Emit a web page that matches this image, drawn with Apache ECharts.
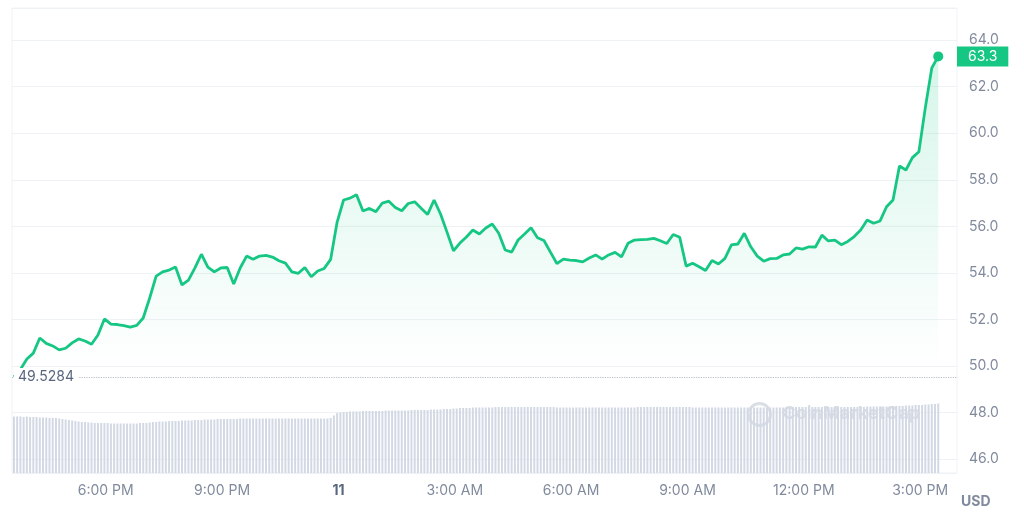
<!DOCTYPE html>
<html lang="en" style="height: 100%">

<head>
  <meta charset="utf-8">
  <style>
    html,
    body {
      margin: 0;
      padding: 0;
      width: 100%;
      height: 100%;
      overflow: hidden;
      background: #fff;
    }
  </style>
</head>

<body>
  <div id="container" style="height: 100%;width: 100%;"></div>

  <script type="text/javascript" src="https://cdn.jsdelivr.net/npm/echarts@6/dist/echarts.min.js"></script>
  <script type="text/javascript">

    var dom = document.getElementById('container');
    var myChart = echarts.init(dom, null, { renderer: 'canvas' });

    let green = '#16c784';
    let labelGrey = '#808a9d';

    // minutes counted from 3:00 PM on the 10th
    let priceStart = 38;
    let priceStep = 10;
    let volStart = 38;
    let volStep = 5;

    let xTickLabels = ['6:00 PM', '9:00 PM', '11', '3:00 AM', '6:00 AM', '9:00 AM', '12:00 PM', '3:00 PM'];
    let openPrice = 49.5284;

    let priceValues = [
      49.53, 49.85, 50.30, 50.55, 51.20, 50.97, 50.86, 50.69, 50.76, 50.99, 51.16, 51.07,
      50.93, 51.33, 52.02, 51.80, 51.78, 51.73, 51.67, 51.74, 52.06, 52.92, 53.86, 54.04,
      54.12, 54.25, 53.48, 53.69, 54.21, 54.80, 54.25, 54.04, 54.21, 54.23, 53.52, 54.21,
      54.72, 54.58, 54.72, 54.75, 54.68, 54.52, 54.42, 54.04, 53.98, 54.23, 53.83, 54.08,
      54.19, 54.58, 56.18, 57.13, 57.21, 57.36, 56.66, 56.77, 56.63, 57.00, 57.08, 56.81,
      56.67, 56.98, 57.05, 56.78, 56.51, 57.13, 56.53, 55.75, 54.95, 55.28, 55.54, 55.84,
      55.67, 55.93, 56.10, 55.70, 54.98, 54.89, 55.41, 55.67, 55.94, 55.51, 55.39, 54.89,
      54.40, 54.59, 54.55, 54.53, 54.47, 54.64, 54.77, 54.59, 54.77, 54.88, 54.69, 55.27,
      55.41, 55.43, 55.44, 55.48, 55.38, 55.26, 55.65, 55.53, 54.29, 54.41, 54.26, 54.10,
      54.53, 54.38, 54.62, 55.20, 55.24, 55.70, 55.12, 54.72, 54.50, 54.61, 54.62, 54.77,
      54.81, 55.07, 55.02, 55.12, 55.11, 55.62, 55.37, 55.41, 55.21, 55.35, 55.56, 55.84,
      56.27, 56.13, 56.23, 56.84, 57.13, 58.59, 58.42, 58.95, 59.20, 61.10, 62.80, 63.30
    ];

    // volume, millions
    let volumeValues = [
      11.3, 11.3, 11.3, 11.2, 11.3, 11.2, 11.2, 11.2, 11.1, 11.1, 11.1, 11.0, 11.0, 11.0, 10.9,
      10.8, 10.7, 10.6, 10.5, 10.4, 10.3, 10.2, 10.2, 10.1,
      10.1, 10.0, 10.0, 10.0, 10.0, 10.0, 9.9, 9.9, 9.9, 9.9, 9.9, 9.9, 9.9, 9.9, 9.9, 10.0, 10.0, 10.0, 10.1,
      10.2, 10.2, 10.3, 10.3, 10.3, 10.4, 10.4, 10.4, 10.4, 10.5, 10.5, 10.5, 10.5, 10.6, 10.6, 10.6,
      10.7, 10.7, 10.7, 10.7, 10.8, 10.8, 10.8, 10.8, 10.8, 10.8,
      10.8, 10.9, 10.9, 10.9, 10.9, 10.9, 10.9, 10.9, 10.9, 10.9,
      10.9, 10.9, 10.9, 10.9, 10.9, 10.9, 10.9, 10.9, 10.9, 10.9,
      10.9, 10.9, 10.9, 10.9, 10.9, 10.9, 10.9, 10.9, 10.9, 11.0,
      11.5, 12.0, 12.1, 12.2, 12.2,
      12.3, 12.3, 12.3, 12.3, 12.4, 12.4, 12.4, 12.4, 12.4, 12.4,
      12.4, 12.5, 12.5, 12.5, 12.5, 12.5, 12.5, 12.5, 12.5, 12.6,
      12.6, 12.6, 12.6, 12.6, 12.6, 12.7, 12.7, 12.7, 12.7, 12.8,
      12.8, 12.8,
      12.9, 12.9, 13.0, 13.0, 13.0, 13.0, 13.1, 13.1, 13.1, 13.1,
      13.1, 13.1, 13.1, 13.2, 13.2, 13.2, 13.2, 13.2, 13.2, 13.2,
      13.2, 13.2, 13.2, 13.2, 13.2, 13.2, 13.2, 13.2, 13.2, 13.2,
      13.2, 13.2, 13.1, 13.1, 13.1, 13.1, 13.1, 13.1, 13.1, 13.1,
      13.1, 13.1, 13.1, 13.1, 13.1, 13.1, 13.1, 13.1, 13.1, 13.1,
      13.1, 13.1, 13.1, 13.1, 13.1, 13.1, 13.1, 13.2, 13.2, 13.2,
      13.2, 13.2, 13.2, 13.2, 13.2, 13.2, 13.2, 13.2, 13.2, 13.2,
      13.2, 13.2, 13.2, 13.2, 13.1, 13.1, 13.1, 13.1, 13.1, 13.1,
      13.1, 13.1, 13.1, 13.1, 13.1, 13.1, 13.1, 13.1, 13.1, 13.1,
      13.1, 13.1, 13.1, 13.1, 13.1, 13.1, 13.1, 13.1, 13.1, 13.1,
      13.1, 13.1, 13.1, 13.1, 13.2, 13.2, 13.2, 13.2, 13.2, 13.2,
      13.2, 13.2, 13.2, 13.2, 13.2, 13.2, 13.2, 13.2, 13.2, 13.2,
      13.2, 13.2, 13.2, 13.2, 13.2, 13.2, 13.2, 13.2, 13.3, 13.3,
      13.3, 13.3, 13.3, 13.3, 13.3, 13.3, 13.4, 13.4, 13.4, 13.4,
      13.5, 13.5, 13.5, 13.6, 13.6, 13.6, 13.7, 13.7, 13.8, 13.8, 13.9
    ];

    let priceData = priceValues.map((v, i) => [priceStart + i * priceStep, v]);
    let volumeData = volumeValues.map((v, i) => [volStart + i * volStep, v]);
    let lastPoint = priceData[priceData.length - 1];

    var option = {
      animation: false,
      textStyle: {
        fontFamily: 'Inter, "Noto Sans", sans-serif'
      },
      grid: {
        left: 12,
        right: 67,
        top: 8,
        bottom: 51,
        show: true,
        borderColor: '#eff2f5',
        borderWidth: 1
      },
      xAxis: {
        type: 'value',
        min: 35,
        max: 1497,
        splitNumber: 8,
        minInterval: 180,
        maxInterval: 180,
        axisLine: { show: false },
        axisTick: { show: false },
        splitLine: { show: false },
        axisLabel: {
          showMinLabel: false,
          showMaxLabel: false,
          color: labelGrey,
          fontSize: 14,
          margin: 11,
          formatter: function (v) {
            let label = xTickLabels[Math.round(v / 180) - 1] || '';
            return label === '11' ? '{day|' + label + '}' : label;
          },
          rich: {
            day: { fontWeight: 'bold', color: '#58667e', fontSize: 14 }
          }
        }
      },
      yAxis: [{
        type: 'value',
        position: 'right',
        min: 45.4,
        max: 65.38,
        splitNumber: 10,
        minInterval: 2,
        maxInterval: 2,
        axisLine: { show: false },
        axisTick: { show: false },
        splitLine: {
          lineStyle: { color: '#eff2f5' }
        },
        axisLabel: {
          showMinLabel: false,
          showMaxLabel: false,
          color: labelGrey,
          fontSize: 14,
          margin: 12,
          formatter: function (v) { return v.toFixed(1); }
        },
        name: 'USD',
        nameLocation: 'start',
        nameGap: 22,
        nameTextStyle: {
          align: 'left',
          color: labelGrey,
          fontWeight: 'bold',
          fontSize: 14,
          padding: [0, 0, 0, 4]
        }
      }, {
        type: 'value',
        min: 0,
        max: 93,
        show: false
      }],
      graphic: [{
        type: 'group',
        left: 746,
        top: 401,
        silent: true,
        children: [{
          type: 'circle',
          shape: { cx: 13, cy: 13, r: 11 },
          style: { fill: 'none', stroke: 'rgba(150,160,180,0.35)', lineWidth: 3 }
        }, {
          type: 'text',
          x: 36,
          y: 3,
          style: {
            text: 'CoinMarketCap',
            font: 'bold 18px Inter',
            fill: 'rgba(150,160,180,0.35)'
          }
        }]
      }],
      series: [{
        name: 'Volume',
        type: 'bar',
        yAxisIndex: 1,
        barWidth: 2,
        itemStyle: { color: '#d3d9e4' },
        data: volumeData
      }, {
        name: 'Price',
        type: 'line',
        yAxisIndex: 0,
        showSymbol: false,
        smooth: false,
        lineStyle: { color: green, width: 2.8 },
        areaStyle: {
          color: new echarts.graphic.LinearGradient(0, 0, 0, 1, [
            { offset: 0, color: 'rgba(22,199,132,0.25)' },
            { offset: 0.75, color: 'rgba(22,199,132,0)' }
          ])
        },
        markPoint: {
          symbol: 'circle',
          symbolSize: 10,
          itemStyle: { color: green },
          label: { show: false },
          data: [{ coord: lastPoint }]
        },
        markLine: {
          silent: true,
          symbol: 'none',
          data: [{
            yAxis: openPrice,
            lineStyle: { color: '#b8bfcc', type: 'dotted', width: 1.2 },
            label: {
              position: 'insideStartTop',
              verticalAlign: 'middle',
              distance: [2, 0],
              formatter: String(openPrice),
              color: '#58667e',
              fontSize: 14,
              backgroundColor: '#fff',
              padding: [2, 4]
            }
          }, {
            yAxis: lastPoint[1],
            lineStyle: { color: 'rgba(0,0,0,0)', width: 0 },
            label: {
              show: true,
              position: 'end',
              distance: 0,
              formatter: lastPoint[1].toFixed(1),
              color: '#fff',
              fontSize: 14,
              backgroundColor: green,
              padding: [3, 11]
            }
          }]
        },
        data: priceData
      }]
    };

    myChart.setOption(option);
    window.addEventListener('resize', myChart.resize);

  </script>
</body>

</html>
